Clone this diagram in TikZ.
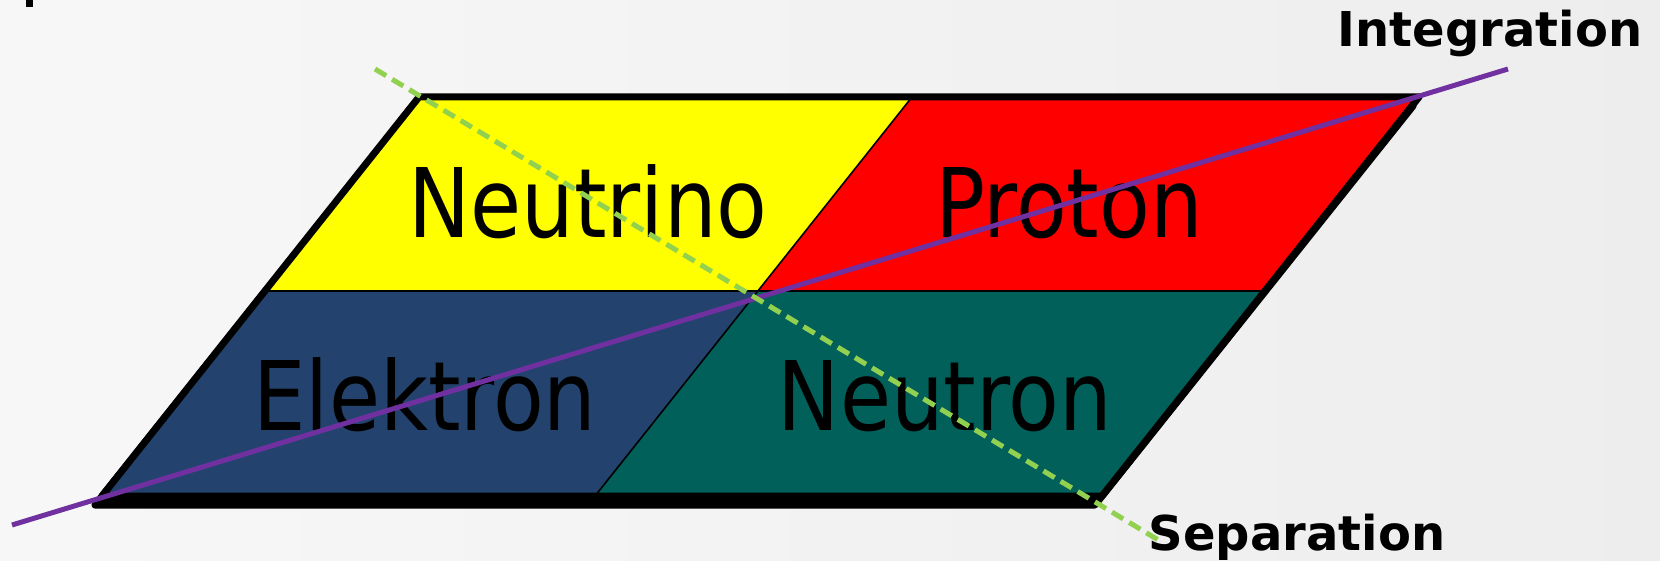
\documentclass[tikz,border=0pt]{standalone}
\usepackage{fontspec}
\setmainfont{DejaVu Sans}
\newfontfamily\regfont{DejaVu Sans}
\definecolor{cyellow}{HTML}{FFFF00}
\definecolor{cred}{HTML}{FF0000}
\definecolor{cblue}{HTML}{23436E}
\definecolor{cteal}{HTML}{02605A}
\definecolor{cpurple}{HTML}{7030A0}
\definecolor{cgreen}{HTML}{92D050}
\tikzset{
  region/.style={inner sep=0pt, anchor=base, font=\regfont\fontsize{96}{100}\selectfont},
  axislabel/.style={inner sep=0pt, anchor=base, font=\regfont\bfseries\fontsize{48}{50}\selectfont},
  divider/.style={draw=black, line width=1.6pt},
  outline/.style={draw=black, line width=7pt, line join=round},
  integ/.style={draw=cpurple, line width=5pt},
  separ/.style={draw=cgreen, line width=5pt, dash pattern=on 13pt off 7pt}
}
\begin{document}
\begin{tikzpicture}[x=1pt,y=-1pt]
\useasboundingbox (0,0) rectangle (1660,561);
\shade[left color=gray!6, middle color=white, right color=gray!14] (0,0) rectangle (1660,561);
\fill[black] (26,0) rectangle (33,7);
% corner points
\coordinate (tl) at (419,97);
\coordinate (tm) at (912,97);
\coordinate (tr) at (1419,97);
\coordinate (ml) at (265,291);
\coordinate (mm) at (758,291);
\coordinate (mr) at (1265,291);
\coordinate (bl) at (102,496);
\coordinate (bm) at (595,496);
\coordinate (br) at (1102,496);
% shadow corners
\coordinate (stl) at (413,106);
\coordinate (str) at (1413,106);
\coordinate (sbr) at (1095,505);
\coordinate (sbl) at (95,505);
\fill[black, draw=black, line width=7pt, line join=round] (stl) -- (str) -- (sbr) -- (sbl) -- cycle;
% quadrants
\fill[cyellow] (tl) -- (tm) -- (mm) -- (ml) -- cycle;
\fill[cred] (tm) -- (tr) -- (mr) -- (mm) -- cycle;
\fill[cblue] (ml) -- (mm) -- (bm) -- (bl) -- cycle;
\fill[cteal] (mm) -- (mr) -- (br) -- (bm) -- cycle;
\draw[divider] (ml) -- (mr);
\draw[divider] (tm) -- (bm);
\draw[outline] (tl) -- (tr) -- (br) -- (bl) -- cycle;
% texts
\node[region] (neutrino) at (588,238) {\scalebox{0.865}[1]{Neutrino}};
\node[region] (proton) at (1069,238) {\scalebox{0.865}[1]{Proton}};
\node[region] (elektron) at (425,430) {\scalebox{0.865}[1]{Elektron}};
\node[region] (neutron) at (945,430) {\scalebox{0.865}[1]{Neutron}};
\node[axislabel] (integration) at (1490,47) {Integration};
\node[axislabel] (separation) at (1297,550) {Separation};
% axes
\coordinate (i0) at (12,525);
\coordinate (i1) at (1508,69);
\coordinate (s0) at (375,69);
\coordinate (s1) at (1160,541);
\draw[integ] (i0) -- (i1);
\draw[separ] (s0) -- (s1);
\end{tikzpicture}
\end{document}
